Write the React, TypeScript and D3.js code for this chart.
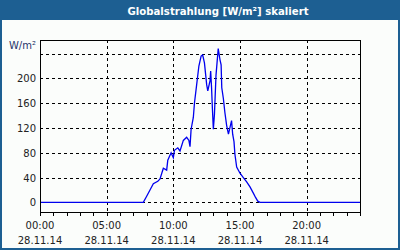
import React from 'react'
import { scaleLinear, line, range } from "d3";

// time of day as "HH:MM", irradiance in W/m²
const times = [
  "00:00", "07:45", "08:00", "08:15", "08:30", "08:50", "09:00", "09:15", "09:30", "09:35",
  "09:50", "10:00", "10:05", "10:20", "10:30", "10:45", "11:00", "11:10", "11:15", "11:20",
  "11:30", "11:35", "11:45", "11:55", "12:05", "12:12", "12:20", "12:30", "12:35", "12:45",
  "12:48", "12:52", "12:56", "13:00", "13:05", "13:12", "13:22", "13:30", "13:35", "13:38",
  "13:45", "13:52", "14:00", "14:08", "14:15", "14:22", "14:27", "14:33", "14:37", "14:45",
  "15:00", "15:15", "15:30", "15:45", "16:00", "16:10", "16:20", "16:30", "24:00",
];
const values = [
  0, 0, 10, 20, 30, 34, 38, 55, 52, 68,
  80, 72, 84, 88, 83, 100, 105, 100, 90, 118,
  137, 160, 190, 220, 236, 238, 225, 190, 180, 196,
  212, 185, 150, 118, 142, 205, 248, 230, 222, 185,
  168, 145, 124, 110, 121, 132, 110, 98, 78, 57,
  47, 40, 33, 25, 15, 8, 2, 0, 0,
];

const yTicks = [0, 40, 80, 120, 160, 200];
const yGrid = [0, 40, 80, 120, 160, 200, 240];
const xLabels = ["00:00", "05:00", "10:00", "15:00", "20:00"];
const dateLabel = "28.11.14";
const title = "Globalstrahlung [W/m²] skaliert";
const unit = "W/m²";

const W = 400;
const H = 250;
const blue = "#1d5f92";
const font = "DejaVu Sans, Verdana, sans-serif";

const toHours = (t: string) => {
  const [h, m] = t.split(":").map(Number);
  return h + m / 60;
};

export default function App() {
  const left = 40, right = 360, top = 40, bottom = 212;
  const x = scaleLinear().domain([0, 24]).range([left, right]);
  const y = scaleLinear().domain([-15.5, 262]).range([bottom, top]);

  const pts: [number, number][] = times.map((t, i) => [x(toHours(t)), y(values[i])]);
  const path = line()(pts) || "";

  return (
    <div style={{ position: "fixed", left: 0, top: 0 }}>
      <svg width={W} height={H} style={{ display: "block" }}>
        <rect x={0} y={0} width={W} height={H} fill={blue} />
        <rect x={2} y={20} width={W - 4} height={H - 22} fill="#fbfdfb" />
        <text x={218} y={14.5} textAnchor="middle" fill="#ffffff" fontFamily={font}
          fontWeight="bold" fontSize={10.5} textLength={181} lengthAdjust="spacingAndGlyphs">
          {title}
        </text>

        {/* grid */}
        {yGrid.map(v => (
          <line key={"h" + v} x1={left} x2={right} y1={Math.round(y(v)) + 0.5} y2={Math.round(y(v)) + 0.5}
            stroke="#000" strokeDasharray="3,3" />
        ))}
        {xLabels.slice(1).map((l) => {
          const xx = Math.round(x(toHours(l))) + 0.5;
          return <line key={"v" + l} x1={xx} x2={xx} y1={top} y2={bottom} stroke="#000" strokeDasharray="3,3" />;
        })}

        {/* series */}
        <path d={path} fill="none" stroke="#0000ee" strokeWidth={1.3} />

        {/* frame */}
        <rect x={left + 0.5} y={top + 0.5} width={right - left} height={bottom - top} fill="none" stroke="#000" />

        {/* hourly ticks */}
        {range(0, 25).map(h => {
          const xx = Math.round(x(h)) + 0.5;
          return <line key={"t" + h} x1={xx} x2={xx} y1={bottom} y2={bottom + 4} stroke="#000" />;
        })}

        {/* y labels */}
        {yTicks.map(v => (
          <text key={"yl" + v} x={36} y={y(v) + 4} textAnchor="end" fill="#222" fontFamily={font} fontSize={10}>
            {v}
          </text>
        ))}
        <text x={36} y={49} textAnchor="end" fill="#26356b" fontFamily={font} fontSize={10}>{unit}</text>

        {/* x labels */}
        {xLabels.map(l => (
          <g key={"xl" + l}>
            <text x={x(toHours(l))} y={229} textAnchor="middle" fill="#222" fontFamily={font} fontSize={10}>{l}</text>
            <text x={x(toHours(l))} y={244} textAnchor="middle" fill="#222" fontFamily={font} fontSize={10}>{dateLabel}</text>
          </g>
        ))}
      </svg>
    </div>
  );
}
